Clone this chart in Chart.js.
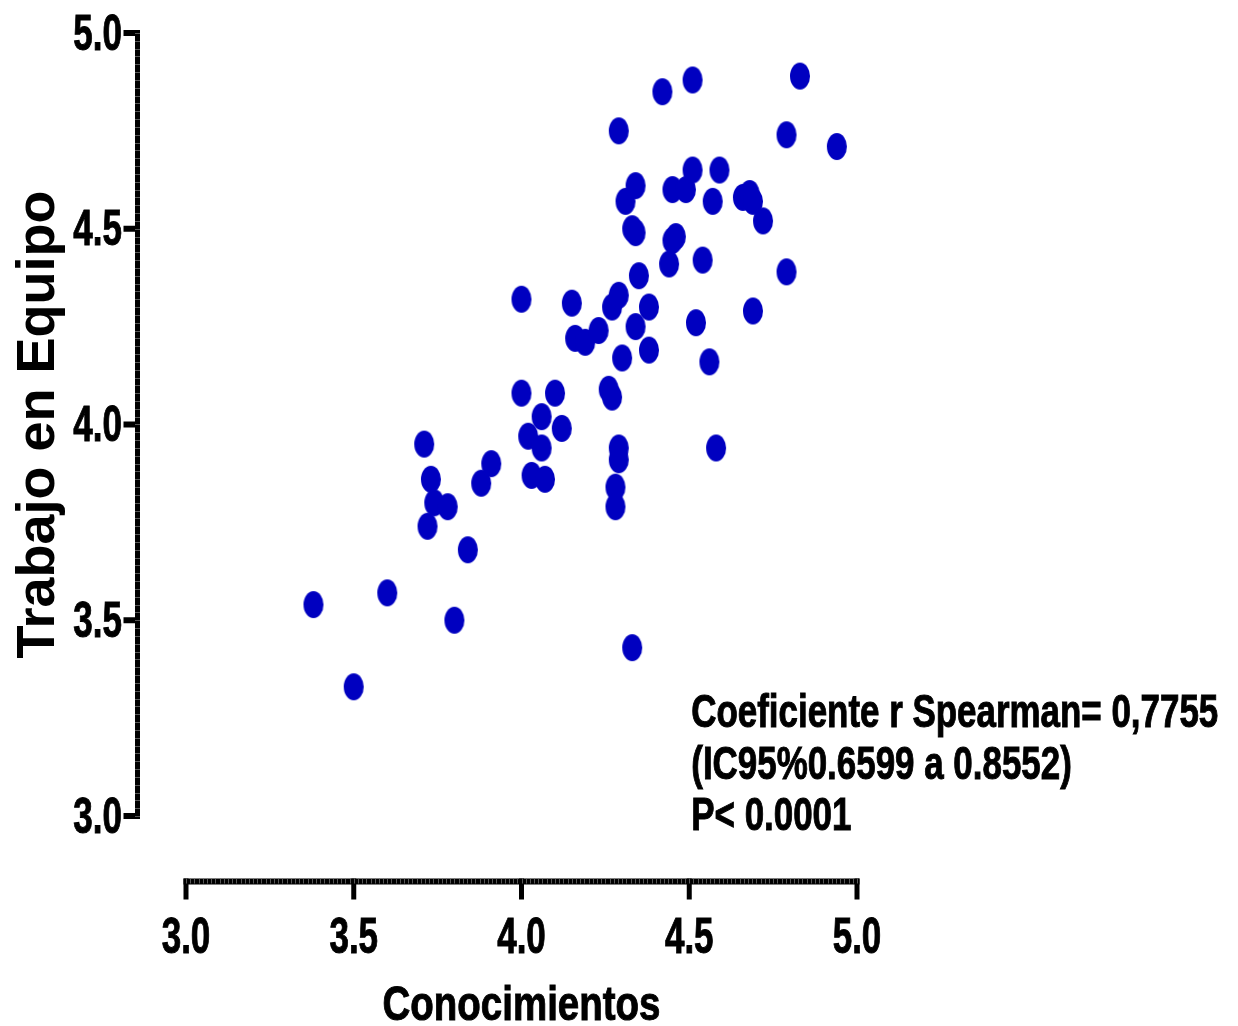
<!DOCTYPE html>
<html>
<head>
<meta charset="utf-8">
<title>Conocimientos vs Trabajo en Equipo</title>
<script src="https://cdn.jsdelivr.net/npm/chart.js@4.4.1/dist/chart.umd.min.js"></script>
<style>
  html, body { margin: 0; padding: 0; background: #fff; }
</style>
</head>
<body>
<canvas id="scatter" width="1238" height="1026"></canvas>
<script>
// ---------- DATA ----------
const conocimientos = [
  3.38, 3.50, 3.60, 3.80, 3.84, 3.71, 3.73, 3.74, 3.72, 3.78,
  3.88, 3.91, 4.00, 4.00, 4.02, 4.03, 4.06, 4.06, 4.07, 4.10,
  4.12, 4.15, 4.16, 4.19, 4.23, 4.26, 4.27, 4.27, 4.29, 4.30,
  4.29, 4.29, 4.28, 4.28, 4.33, 4.29, 4.31, 4.34, 4.33, 4.34,
  4.35, 4.34, 4.38, 4.38, 4.42, 4.51, 4.45, 4.49, 4.51, 4.59,
  4.57, 4.45, 4.46, 4.44, 4.54, 4.52, 4.56, 4.58, 4.66, 4.68,
  4.69, 4.72, 4.69, 4.79, 4.79, 4.83, 4.94
];
const trabajoEquipo = [
  3.54, 3.33, 3.57, 3.50, 3.68, 3.95, 3.86, 3.80, 3.74, 3.79,
  3.85, 3.90, 4.32, 4.08, 3.97, 3.87, 4.02, 3.94, 3.86, 4.08,
  3.99, 4.31, 4.22, 4.21, 4.24, 4.09, 4.07, 4.30, 4.33, 4.17,
  3.94, 3.91, 3.84, 3.79, 3.43, 4.75, 4.57, 4.61, 4.50, 4.49,
  4.38, 4.25, 4.30, 4.19, 4.85, 4.88, 4.60, 4.60, 4.65, 4.65,
  4.57, 4.47, 4.48, 4.41, 4.42, 4.26, 4.16, 3.94, 4.58, 4.59,
  4.57, 4.52, 4.29, 4.39, 4.74, 4.89, 4.71
];
const tickValues = [3.0, 3.5, 4.0, 4.5, 5.0];
const xTitle = 'Conocimientos';
const yTitle = 'Trabajo en Equipo';
const statLines = [
  'Coeficiente r Spearman= 0,7755',
  '(IC95%0.6599 a 0.8552)',
  'P< 0.0001'
];

const SANS = "'Liberation Sans', Arial, sans-serif";
const dotColor = '#0000C0';

// elliptical marker like the Prism export
function makeDot() {
  const c = document.createElement('canvas');
  c.width = 22; c.height = 29;
  const g = c.getContext('2d');
  g.fillStyle = dotColor;
  g.beginPath();
  g.ellipse(11, 14.5, 10, 13.5, 0, 0, Math.PI * 2);
  g.fill();
  return c;
}

// condensed text: Arial bold squeezed horizontally, slightly heavier
function narrowText(ctx, text, x, y, size, sx, align) {
  ctx.font = 'bold ' + size + 'px ' + SANS;
  const w = ctx.measureText(text).width * sx;
  let left = x;
  if (align === 'center') left = x - w / 2;
  if (align === 'right') left = x - w;
  ctx.save();
  ctx.translate(left, y);
  ctx.scale(sx, 1);
  ctx.textAlign = 'left';
  ctx.textBaseline = 'alphabetic';
  ctx.fillText(text, 0, 0);
  ctx.strokeStyle = ctx.fillStyle;
  ctx.lineWidth = 1;
  ctx.strokeText(text, 0, 0);
  ctx.restore();
}

// offset Prism-style axes, drawn from the scales
const offsetAxes = {
  id: 'offsetAxes',
  beforeDatasetsDraw(chart) {
    const { ctx, scales: { x, y } } = chart;
    const axX = 137.5, axY = 881.5;
    ctx.save();
    ctx.fillStyle = '#000';
    // y axis
    const yTop = y.getPixelForValue(5), yBot = y.getPixelForValue(3);
    ctx.fillRect(axX - 2.5, yTop - 3, 5, yBot - yTop + 6);
    tickValues.forEach(v => {
      const p = y.getPixelForValue(v);
      ctx.fillRect(axX - 14, p - 3, 14, 6);
    });
    // x axis
    const xL = x.getPixelForValue(3), xR = x.getPixelForValue(5);
    ctx.fillRect(xL - 2.5, axY - 3, xR - xL + 5, 6);
    tickValues.forEach(v => {
      const p = x.getPixelForValue(v);
      ctx.fillRect(p - 2.5, axY - 3, 5, 21);
    });
    // minor tick pattern
    ctx.fillStyle = 'rgba(110,110,110,0.8)';
    for (let v = 3; v <= 5.0001; v += 0.02) {
      const p = Math.round(y.getPixelForValue(v));
      ctx.fillRect(axX - 2.5, p, 5, 1);
    }
    for (let v = 3; v <= 5.0001; v += 0.0125) {
      const p = Math.round(x.getPixelForValue(v));
      ctx.fillRect(p, axY - 3, 1, 5);
    }
    // tick labels
    ctx.fillStyle = '#000';
    tickValues.forEach(v => {
      narrowText(ctx, v.toFixed(1), 122, y.getPixelForValue(v) + 16.5, 50, 0.7, 'right');
      narrowText(ctx, v.toFixed(1), x.getPixelForValue(v), 953, 50, 0.7, 'center');
    });
    // x title
    ctx.font = 'bold 49px ' + SANS;
    const tw = ctx.measureText(xTitle).width;
    narrowText(ctx, xTitle, (x.left + x.right) / 2, 1020, 49, 278 / tw, 'center');
    ctx.restore();
  },
  afterDraw(chart) {
    const { ctx, scales: { x, y } } = chart;
    ctx.save();
    ctx.fillStyle = '#000';
    ctx.font = 'bold 47px ' + SANS;
    const sx = 527 / ctx.measureText(statLines[0]).width;
    const left = x.getPixelForValue(4.5) + 2;
    const base = y.getPixelForValue(3.227);
    statLines.forEach((t, i) => {
      narrowText(ctx, t, left, base + i * 51.5, 47, sx, 'left');
    });
    ctx.restore();
  }
};

const ctx = document.getElementById('scatter').getContext('2d');

let chart = new Chart(ctx, {
  type: 'scatter',
  data: {
    datasets: [{
      label: yTitle,
      data: conocimientos.map((v, i) => ({ x: v, y: trabajoEquipo[i] })),
      pointStyle: makeDot(),
      pointRadius: 10,
      pointHoverRadius: 10,
      backgroundColor: dotColor,
      borderColor: dotColor
    }]
  },
  options: {
    responsive: false,
    devicePixelRatio: 1,
    animation: false,
    layout: { padding: { top: 33, right: 381, bottom: 0, left: 0 } },
    plugins: { legend: { display: false }, tooltip: { enabled: false } },
    scales: {
      x: {
        type: 'linear', min: 3, max: 5,
        afterBuildTicks: s => { s.ticks = tickValues.map(v => ({ value: v })); },
        afterFit: s => { s.height = 210; },
        grid: { display: false, drawTicks: false },
        border: { display: false },
        ticks: { display: false }
      },
      y: {
        type: 'linear', min: 3, max: 5,
        afterBuildTicks: s => { s.ticks = tickValues.map(v => ({ value: v })); },
        afterFit: s => { s.width = 186; },
        grid: { display: false, drawTicks: false },
        border: { display: false },
        ticks: { display: false },
        title: {
          display: true, text: yTitle, color: '#000',
          font: { family: SANS, size: 54, weight: 'bold', lineHeight: 1.2 },
          padding: { top: 7, bottom: 0 }
        }
      }
    }
  },
  plugins: [offsetAxes]
});
</script>
</body>
</html>
